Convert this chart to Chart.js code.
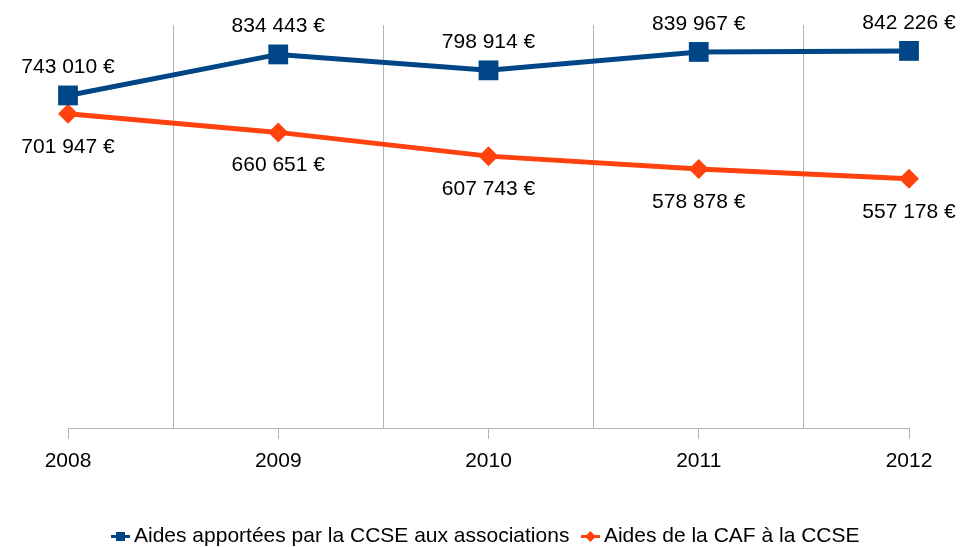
<!DOCTYPE html>
<html>
<head>
<meta charset="utf-8">
<script src="https://cdn.jsdelivr.net/npm/chart.js@4.4.0/dist/chart.umd.min.js"></script>
<style>
  html, body { margin:0; padding:0; background:#fff; overflow:hidden; }
  #wrap { width:976px; height:547px; }
</style>
</head>
<body>
<div id="wrap"><canvas id="chart"></canvas></div>
<script>
// ---------------- Data ----------------
const years = ["2008", "2009", "2010", "2011", "2012"];
const aidesCCSE = [743010, 834443, 798914, 839967, 842226];
const aidesCAF = [701947, 660651, 607743, 578878, 557178];
const seriesNames = ["Aides apportées par la CCSE aux associations", "Aides de la CAF à la CCSE"];
const yMax = 900000;

const BLUE = "#004586";
const ORANGE = "#ff420e";
const GRID = "#b3b3b3";
const FONT = '"Liberation Sans", Arial, sans-serif';

// offsets of the value labels (above blue, below orange)
const labelOffsets = [-28, 33];

// format 743010 -> "743 010 €"
function fmt(v){
  return String(v).replace(/\B(?=(\d{3})+(?!\d))/g, " ") + " €";
}

// small line+marker images for the legend
function legendMarker(color, shape){
  const c = document.createElement("canvas");
  c.width = 19; c.height = 11;
  const g = c.getContext("2d");
  g.fillStyle = color;
  g.fillRect(0, 4, 19, 3);
  if(shape === "square"){
    g.fillRect(5, 1, 9, 9);
  } else {
    g.beginPath();
    g.moveTo(9.5, 0); g.lineTo(15, 5.5); g.lineTo(9.5, 11); g.lineTo(4, 5.5);
    g.closePath(); g.fill();
  }
  return c;
}
const markers = [legendMarker(BLUE, "square"), legendMarker(ORANGE, "diamond")];

// ---------------- Value labels ----------------
const valueLabels = {
  id: "valueLabels",
  afterDatasetsDraw(chart){
    const ctx = chart.ctx;
    ctx.save();
    ctx.font = "21px " + FONT;
    ctx.fillStyle = "#000";
    ctx.textAlign = "center";
    ctx.textBaseline = "middle";
    chart.data.datasets.forEach((ds, di) => {
      chart.getDatasetMeta(di).data.forEach((pt, i) => {
        ctx.fillText(fmt(ds.data[i]), pt.x, pt.y + labelOffsets[di]);
      });
    });
    ctx.restore();
  }
};

// ---------------- Chart ----------------
new Chart(document.getElementById("chart"), {
  type: "line",
  data: {
    labels: years,
    datasets: [
      {
        label: seriesNames[0], data: aidesCCSE,
        borderColor: BLUE, backgroundColor: BLUE, borderWidth: 5,
        pointStyle: "rect", pointRadius: 14, pointBorderWidth: 0,
        tension: 0, fill: false, clip: false
      },
      {
        label: seriesNames[1], data: aidesCAF,
        borderColor: ORANGE, backgroundColor: ORANGE, borderWidth: 5,
        pointStyle: "rectRot", pointRadius: 10, pointBorderWidth: 0,
        tension: 0, fill: false, clip: false
      }
    ]
  },
  options: {
    responsive: true,
    maintainAspectRatio: false,
    animation: false,
    layout: { padding: { left: 68, right: 67, top: 25, bottom: -10 } },
    scales: {
      x: {
        offset: false,
        grid: { drawOnChartArea: false, color: GRID, tickLength: 10 },
        border: { color: GRID },
        ticks: { color: "#000", font: { family: FONT, size: 21 }, padding: 10, maxRotation: 0 }
      },
      xg: {
        type: "category",
        position: "bottom",
        offset: false,
        grid: { offset: true, color: GRID, drawTicks: false },
        border: { display: false },
        ticks: { display: false }
      },
      y: { display: false, min: 0, max: yMax }
    },
    plugins: {
      tooltip: { enabled: false },
      legend: {
        position: "bottom",
        title: { display: true, text: "", font: { size: 10 }, padding: { top: 0, bottom: 12 } },
        labels: {
          usePointStyle: true,
          pointStyleWidth: 6,
          padding: 18,
          color: "#000",
          font: { family: FONT, size: 21 },
          generateLabels(chart){
            const items = Chart.defaults.plugins.legend.labels.generateLabels(chart);
            items.forEach((it, i) => { it.pointStyle = markers[i]; });
            return items;
          }
        }
      }
    }
  },
  plugins: [valueLabels]
});
</script>
</body>
</html>
